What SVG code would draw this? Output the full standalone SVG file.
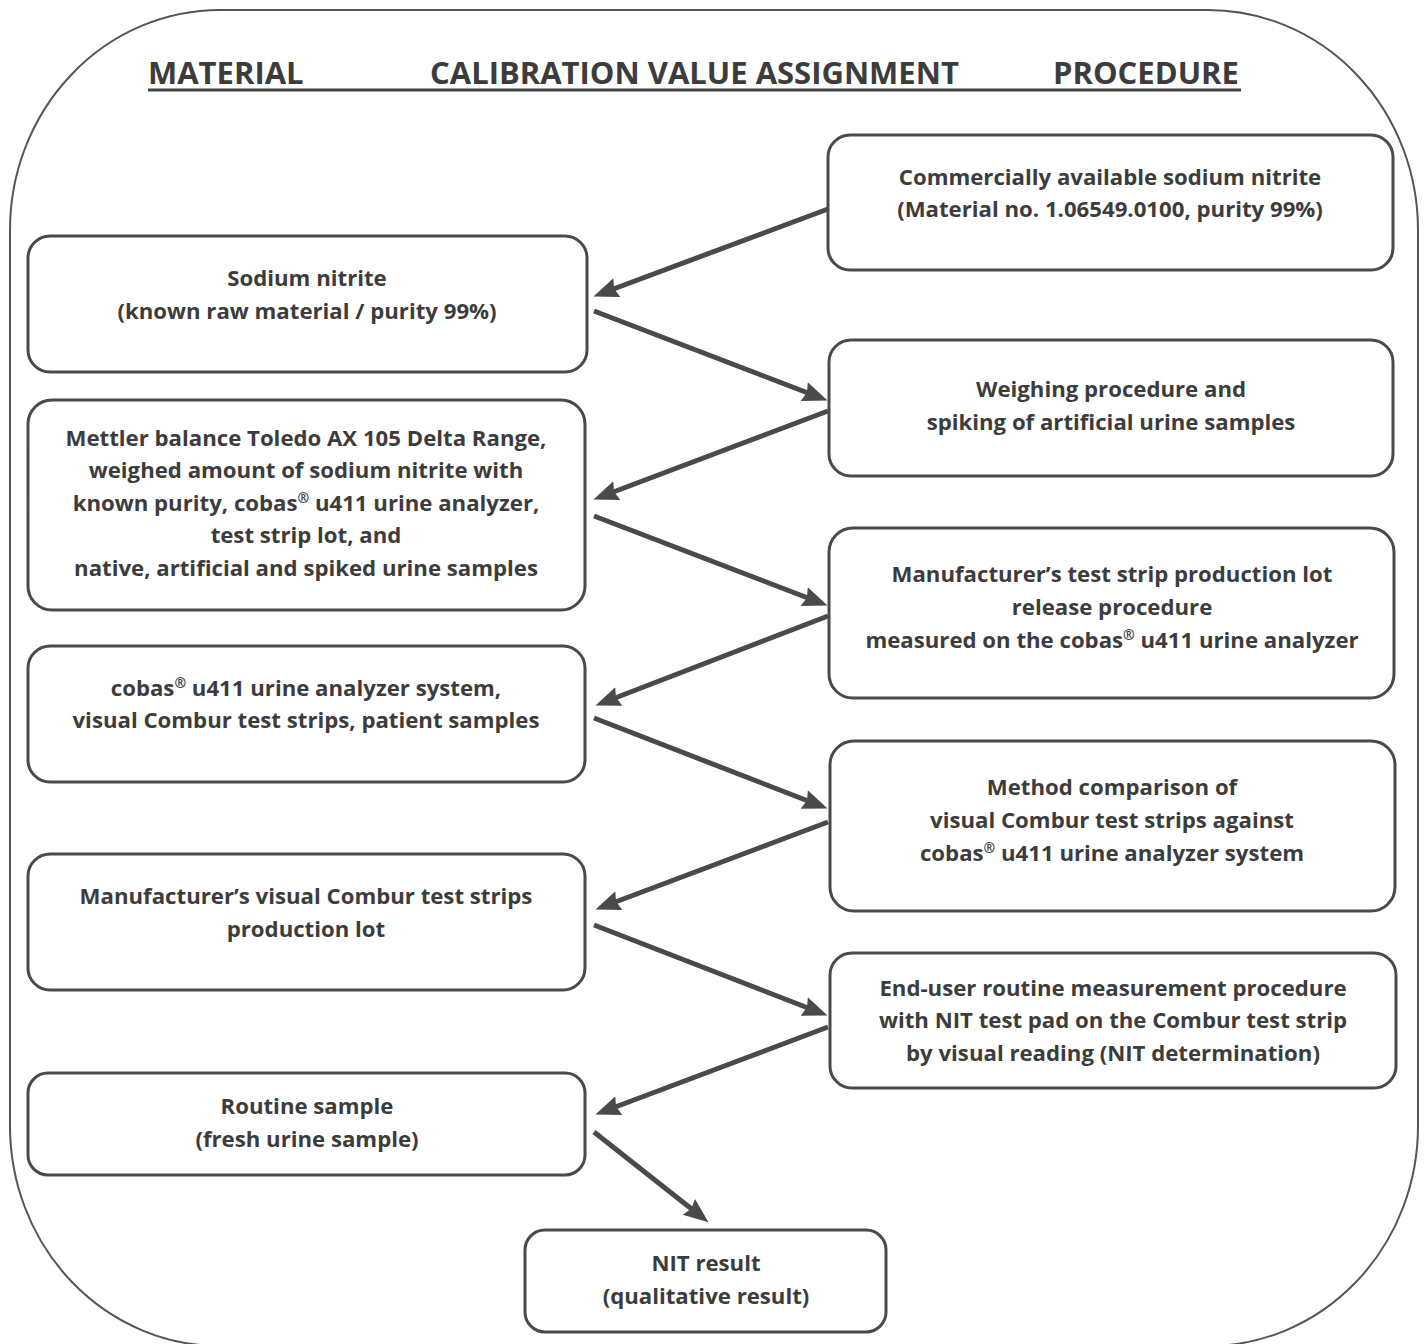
<svg xmlns="http://www.w3.org/2000/svg" width="1425" height="1344" viewBox="0 0 1425 1344">
<style>
.box{fill:#fff;stroke:#4a4a4a;stroke-width:3}
.t{font-family:"Open Sans","Liberation Sans",sans-serif;font-weight:700;font-size:22.2px;fill:#3c3c3c;text-anchor:middle}
.h{font-family:"Open Sans","Liberation Sans",sans-serif;font-weight:700;font-size:31px;fill:#3c3c3c}
.c{stroke:#4a4a4a;stroke-width:5;fill:none;marker-end:url(#ah)}
.sup{font-size:14px}
</style>
<defs>
<marker id="ah" markerUnits="userSpaceOnUse" markerWidth="28" markerHeight="24" refX="18" refY="12" orient="auto">
<path d="M0,2 L25,12 L0,22 L3,12 Z" fill="#4a4a4a"/>
</marker>
</defs>
<rect width="1425" height="1344" fill="#fff"/>
<path id="frame" d="M220,10 H1208 A210,220 0 0 1 1418,230 V1126 A210,220 0 0 1 1208,1346 H220 A210,220 0 0 1 10,1126 V230 A210,220 0 0 1 220,10 Z" fill="none" stroke="#555" stroke-width="2"/>
<g id="header">
<text class="h" x="148" y="84">MATERIAL</text>
<text class="h" x="430" y="84">CALIBRATION VALUE ASSIGNMENT</text>
<text class="h" x="1053" y="84">PROCEDURE</text>
<line x1="148" y1="90" x2="1241" y2="90" stroke="#444" stroke-width="3"/>
</g>
<g id="connectors">
<line class="c" x1="828" y1="209" x2="600" y2="294"/>
<line class="c" x1="594" y1="311" x2="821" y2="398"/>
<line class="c" x1="828" y1="411" x2="600" y2="497"/>
<line class="c" x1="594" y1="516" x2="821" y2="603"/>
<line class="c" x1="828" y1="616" x2="602" y2="703"/>
<line class="c" x1="594" y1="718" x2="821" y2="806"/>
<line class="c" x1="828" y1="822" x2="602" y2="907"/>
<line class="c" x1="594" y1="925" x2="821" y2="1013"/>
<line class="c" x1="828" y1="1027" x2="602" y2="1112"/>
<line class="c" x1="594" y1="1132" x2="703" y2="1218"/>
</g>
<g id="n1"><rect class="box" x="28" y="236" width="559" height="136" rx="22"/>
<text class="t" x="307" y="286">Sodium nitrite</text>
<text class="t" x="307" y="319">(known raw material / purity 99%)</text></g>
<g id="n2"><rect class="box" x="28" y="400" width="557" height="210" rx="24"/>
<text class="t" x="306" y="446">Mettler balance Toledo AX 105 Delta Range,</text>
<text class="t" x="306" y="478">weighed amount of sodium nitrite with</text>
<text class="t" x="306" y="511">known purity, cobas<tspan class="sup" dy="-8">®</tspan><tspan dy="8"> u411 urine analyzer,</tspan></text>
<text class="t" x="306" y="543">test strip lot, and</text>
<text class="t" x="306" y="576">native, artificial and spiked urine samples</text></g>
<g id="n3"><rect class="box" x="28" y="646" width="557" height="136" rx="22"/>
<text class="t" x="306" y="696">cobas<tspan class="sup" dy="-8">®</tspan><tspan dy="8"> u411 urine analyzer system,</tspan></text>
<text class="t" x="306" y="728">visual Combur test strips, patient samples</text></g>
<g id="n4"><rect class="box" x="28" y="854" width="557" height="136" rx="22"/>
<text class="t" x="306" y="904">Manufacturer’s visual Combur test strips</text>
<text class="t" x="306" y="937">production lot</text></g>
<g id="n5"><rect class="box" x="28" y="1073" width="557" height="102" rx="20"/>
<text class="t" x="307" y="1114">Routine sample</text>
<text class="t" x="307" y="1147">(fresh urine sample)</text></g>
<g id="r1"><rect class="box" x="828" y="135" width="565" height="135" rx="22"/>
<text class="t" x="1110" y="185">Commercially available sodium nitrite</text>
<text class="t" x="1110" y="217">(Material no. 1.06549.0100, purity 99%)</text></g>
<g id="r2"><rect class="box" x="829" y="340" width="564" height="136" rx="22"/>
<text class="t" x="1111" y="397">Weighing procedure and</text>
<text class="t" x="1111" y="430">spiking of artificial urine samples</text></g>
<g id="r3"><rect class="box" x="829" y="528" width="565" height="170" rx="24"/>
<text class="t" x="1112" y="582">Manufacturer’s test strip production lot</text>
<text class="t" x="1112" y="615">release procedure</text>
<text class="t" x="1112" y="648">measured on the cobas<tspan class="sup" dy="-8">®</tspan><tspan dy="8"> u411 urine analyzer</tspan></text></g>
<g id="r4"><rect class="box" x="830" y="741" width="565" height="170" rx="24"/>
<text class="t" x="1112" y="795">Method comparison of</text>
<text class="t" x="1112" y="828">visual Combur test strips against</text>
<text class="t" x="1112" y="861">cobas<tspan class="sup" dy="-8">®</tspan><tspan dy="8"> u411 urine analyzer system</tspan></text></g>
<g id="r5"><rect class="box" x="830" y="953" width="566" height="135" rx="22"/>
<text class="t" x="1113" y="996">End-user routine measurement procedure</text>
<text class="t" x="1113" y="1028">with NIT test pad on the Combur test strip</text>
<text class="t" x="1113" y="1061">by visual reading (NIT determination)</text></g>
<g id="n6"><rect class="box" x="525" y="1230" width="361" height="102" rx="20"/>
<text class="t" x="706" y="1271">NIT result</text>
<text class="t" x="706" y="1304">(qualitative result)</text></g>
</svg>
